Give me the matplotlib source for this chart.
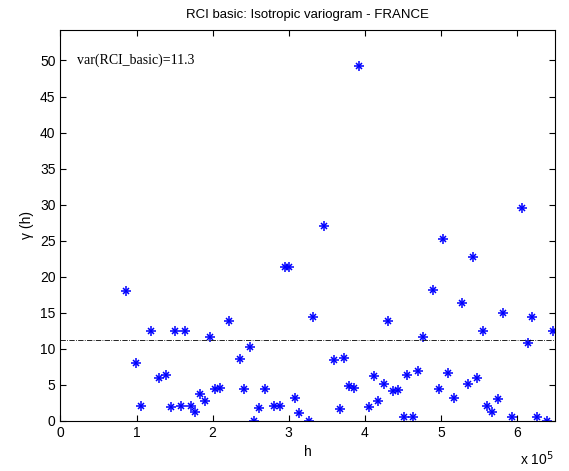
import matplotlib.pyplot as plt

plt.rcParams['font.family'] = ['Liberation Sans', 'DejaVu Sans']

# lag distance h (in units of 1e5) and semivariance gamma(h)
h = [0.86, 0.99, 1.06, 1.19, 1.30, 1.39, 1.45, 1.50, 1.58, 1.64, 1.71, 1.77,
     1.83, 1.90, 1.97, 2.03, 2.10, 2.22, 2.36, 2.41, 2.49, 2.55, 2.61, 2.69,
     2.81, 2.88, 2.95, 3.00, 3.08, 3.14, 3.27, 3.32, 3.47, 3.59, 3.67, 3.72,
     3.79, 3.86, 3.92, 4.06, 4.12, 4.18, 4.25, 4.31, 4.37, 4.44, 4.51, 4.56,
     4.64, 4.70, 4.76, 4.89, 4.97, 5.03, 5.09, 5.17, 5.28, 5.36, 5.42, 5.48,
     5.55, 5.61, 5.67, 5.75, 5.81, 5.94, 6.06, 6.14, 6.20, 6.26, 6.39, 6.47]
gamma = [18.0, 8.1, 2.1, 12.5, 6.0, 6.4, 1.9, 12.5, 2.1, 12.5, 2.1, 1.25,
         3.8, 2.8, 11.6, 4.4, 4.6, 13.8, 8.6, 4.5, 10.3, 0.0, 1.85, 4.4,
         2.1, 2.1, 21.4, 21.4, 3.15, 1.15, 0.0, 14.4, 27.1, 8.4, 1.7, 8.8,
         4.9, 4.6, 49.3, 2.0, 6.2, 2.8, 5.1, 13.8, 4.2, 4.3, 0.6, 6.4,
         0.6, 7.0, 11.6, 18.1, 4.5, 25.3, 6.6, 3.15, 16.3, 5.1, 22.7, 5.9,
         12.5, 2.1, 1.25, 3.0, 15.0, 0.6, 29.6, 10.8, 14.4, 0.6, 0.0, 12.5]
variance = 11.3

h_m = [v * 1e5 for v in h]

fig = plt.figure(figsize=(5.69, 4.71), dpi=100)
ax = fig.add_axes([0.1063, 0.1062, 0.8691, 0.8301])

ax.plot(h_m, gamma, '+', color='blue', markersize=7.5, markeredgewidth=1.1)
ax.plot(h_m, gamma, 'x', color='blue', markersize=5, markeredgewidth=1.1)
ax.axhline(variance, color='black', linestyle='-.', linewidth=0.6)

ax.set_xlim(0, 6.5e5)
ax.set_ylim(0, max(gamma) * 1.1)
ax.set_xticks([i * 1e5 for i in range(7)])
ax.set_xticklabels([str(i) for i in range(7)])
ax.set_yticks(range(0, 51, 5))

ax.tick_params(direction='in', top=True, right=True, labelsize=10, length=4)
for s in ax.spines.values():
    s.set_linewidth(0.8)

ax.set_title('RCI basic: Isotropic variogram - FRANCE', fontsize=9.5, pad=9)
ax.set_xlabel('h', fontsize=10)
ax.set_ylabel('γ (h)', fontsize=10)
ax.text(0.929, -0.1125, 'x 10$^5$', transform=ax.transAxes, fontsize=10,
        ha='left', va='baseline')
ax.text(0.22e5, 50, 'var(RCI_basic)=11.3', fontsize=10,
        family='Liberation Serif', va='center')

fig.savefig('out.png', dpi=100)
